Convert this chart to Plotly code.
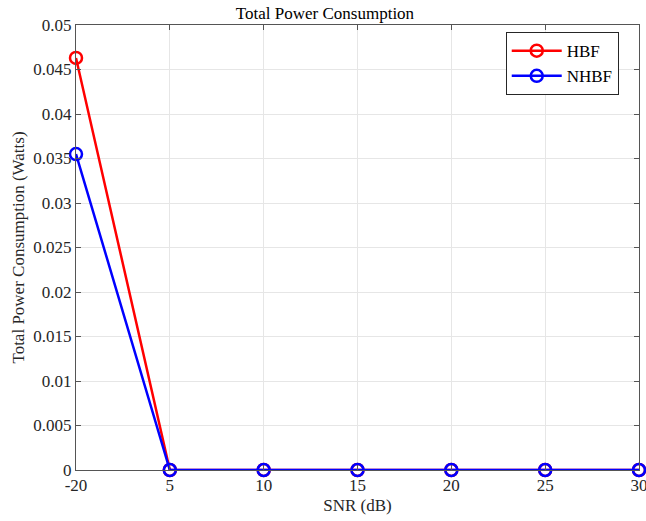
import plotly.graph_objects as go

snr_labels = ["-20", "5", "10", "15", "20", "25", "30"]
hbf = [0.0463, 0.0, 0.0, 0.0, 0.0, 0.0, 0.0]
nhbf = [0.0355, 0.0, 0.0, 0.0, 0.0, 0.0, 0.0]

font = "Liberation Serif, Times New Roman, serif"

fig = go.Figure()
fig.add_trace(go.Scatter(x=snr_labels, y=hbf, name="HBF", mode="lines+markers",
                         line=dict(color="#ff0000", width=2.5),
                         marker=dict(symbol="circle-open", size=12, color="#ff0000", line=dict(width=2.5))))
fig.add_trace(go.Scatter(x=snr_labels, y=nhbf, name="NHBF", mode="lines+markers",
                         line=dict(color="#0000ff", width=2.5),
                         marker=dict(symbol="circle-open", size=12, color="#0000ff", line=dict(width=2.5))))

axis_common = dict(showline=True, linecolor="#555555", linewidth=1, mirror="ticks",
                   ticks="inside", ticklen=5, tickcolor="#555555", automargin=False,
                   showgrid=True, gridcolor="#e6e6e6", gridwidth=1, zeroline=False,
                   tickfont=dict(family=font, size=17, color="#262626"))

fig.update_layout(
    width=646, height=521,
    paper_bgcolor="white", plot_bgcolor="white",
    margin=dict(l=76, r=7, t=25, b=51, autoexpand=False),
    font=dict(family=font, color="#262626"),
    title=dict(text="Total Power Consumption", x=325 / 646, xanchor="center", y=1 - 13 / 521, yanchor="middle",
               font=dict(family=font, size=17, color="#000000")),
    xaxis=dict(type="category", range=[0, 6],
               title=dict(text="SNR (dB)", font=dict(family=font, size=17, color="#262626"), standoff=4),
               **axis_common),
    yaxis=dict(range=[0, 0.05], dtick=0.005, tick0=0,
               title=dict(text="Total Power Consumption (Watts)", font=dict(family=font, size=17, color="#262626"), standoff=4),
               **axis_common),
    legend=dict(x=0.964, xanchor="right", y=0.984, yanchor="top", itemwidth=50,
                bgcolor="white", bordercolor="#262626", borderwidth=1,
                font=dict(family=font, size=17, color="#000000"), tracegroupgap=0),
    showlegend=True,
)
fig.update_traces(cliponaxis=False)

fig.write_html("out.html", config={"displayModeBar": False},
               post_script="document.body.style.margin='0';document.body.style.overflow='hidden';")
